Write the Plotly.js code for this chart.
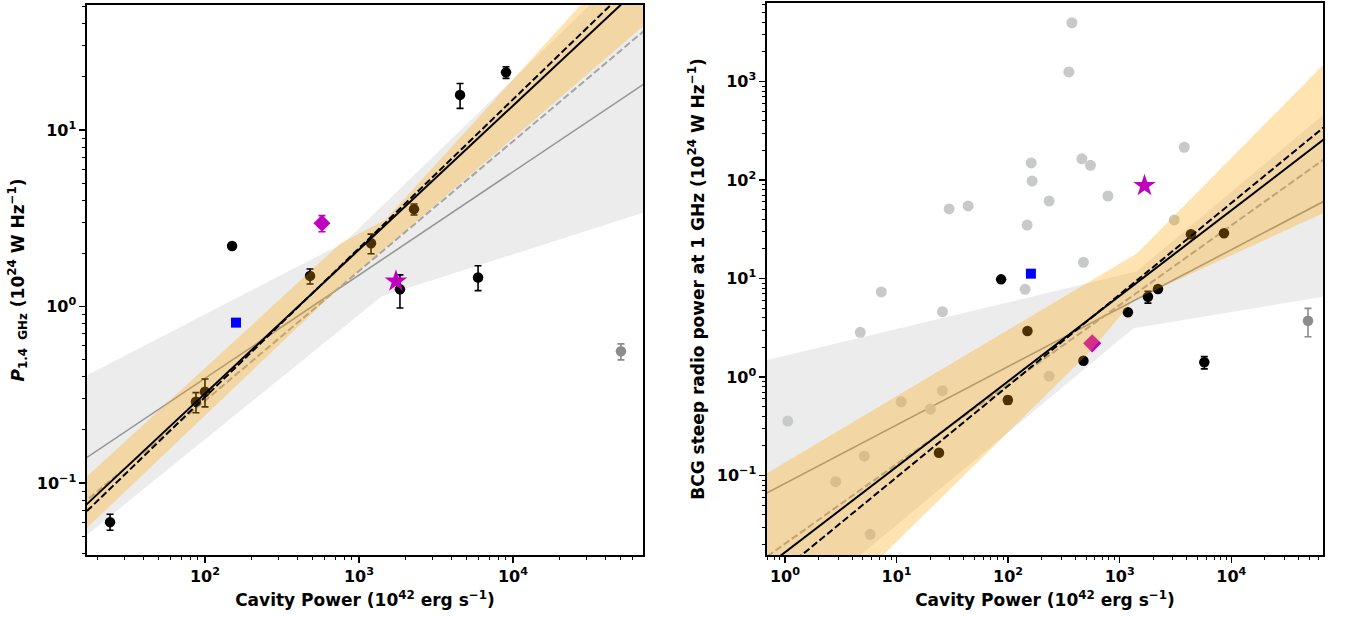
<!DOCTYPE html>
<html><head><meta charset="utf-8">
<script src="https://cdn.plot.ly/plotly-3.0.1.min.js"></script>
<style>html,body{margin:0;padding:0;background:#fff}#plot{width:1347px;height:617px}</style>
</head><body><div id="plot"></div>
<script>
// ================= LEFT PANEL DATA =================
const leftBlackX = [24.2, 87.4, 100, 150, 481, 1197, 1845, 2276, 4530, 5930, 9010];
const leftBlackY = [0.060, 0.289, 0.329, 2.2, 1.49, 2.28, 1.25, 3.56, 15.8, 1.46, 21.2];
const leftBlackErrUp = [0.0065, 0.036, 0.059, 0, 0.14, 0.29, 0.26, 0.25, 2.55, 0.24, 1.6];
const leftBlackErrDown = [0.006, 0.039, 0.059, 0, 0.15, 0.29, 0.27, 0.26, 2.55, 0.23, 1.6];
const leftGreyX = [50200], leftGreyY = [0.557], leftGreyErrUp = [0.057], leftGreyErrDown = [0.059];
const leftBlueX = [159], leftBlueY = [0.81];
const leftDiamondX = [575], leftDiamondY = [2.96], leftDiamondErr = [0.31];
const leftStarX = [1738], leftStarY = [1.39];
// fits: log10(y) = a + b*(log10(x) - 3)
const leftFitBlackSolid = {a: 0.322, b: 0.816};
const leftFitBlackDash  = {a: 0.330, b: 0.843};
const leftFitGreySolid  = {a: 0.178, b: 0.585};
const leftFitGreyDash   = {a: 0.201, b: 0.735};
const leftFitRangeX = [10, 1e5];
// confidence bands
const leftGreyBandUpX = [10, 800, 1e5],        leftGreyBandUpY = [0.32, 2.3, 135];
const leftGreyBandLoX = [10, 1400, 1e5],       leftGreyBandLoY = [0.0347, 1.14, 3.76];
const leftOrBandUpX = [10, 764, 1479, 1e5],    leftOrBandUpY = [0.0705, 2.29, 3.09, 176.6];
const leftOrBandLoX = [10, 753, 1e5],          leftOrBandLoY = [0.0356, 1.29, 50.6];

// ================= RIGHT PANEL DATA =================
const rightBlackX = [24.0, 99.4, 149, 473, 1184, 1791, 2203, 4350, 8600, 86.5, 5730];
const rightBlackY = [0.170, 0.584, 2.93, 1.46, 4.54, 6.53, 7.82, 28.1, 28.8, 9.8, 1.41];
const rightBlackErr = [0.01, 0.05, 0.2, 0.05, 0.2, 0.9, 0.3, 1.0, 1.0, 0.3, 0.2];
const rightLightX = [1.06, 2.85, 4.73, 5.14, 5.8, 7.3, 11, 20.1, 25.8, 25.8, 29.6, 43.8, 142, 148, 161, 164, 233, 233, 350, 373, 473, 458, 547, 784, 3790, 3080];
const rightLightY = [0.357, 0.0865, 2.84, 0.157, 0.0253, 7.3, 0.561, 0.473, 4.6, 0.726, 50.8, 54.5, 7.76, 34.9, 149, 97.7, 61.2, 1.02, 1250, 3950, 14.6, 164, 141, 68.8, 215, 39.3];
const rightGreyX = [48700], rightGreyY = [3.73], rightGreyErrUp = [1.24], rightGreyErrDown = [1.17];
const rightBlueX = [160], rightBlueY = [11.2];
const rightDiamondX = [567], rightDiamondY = [2.2];
const rightStarX = [1668], rightStarY = [87.5];
// fits: log10(y) = a + b*log10(x)
const rightFitBlackSolid = {a: -1.780, b: 0.868};
const rightFitBlackDash  = {a: -1.946, b: 0.928};
const rightFitGreySolid  = {a: -1.080, b: 0.593};
const rightFitGreyDash   = {a: -1.693, b: 0.808};
const rightFitRangeX = [0.3, 1e5];
const rightGreyBandUpX = [0.316, 1413, 1e5],      rightGreyBandUpY = [1.205, 11.75, 676];
const rightGreyBandLoX = [0.316, 1330, 1e5],      rightGreyBandLoY = [0.00122, 3.12, 7.06];
const rightOrBandUpX = [0.316, 1429, 1e5],        rightOrBandUpY = [0.0622, 18.0, 2355];
const rightOrBandLoX = [0.316, 566, 1330, 1e5],   rightOrBandLoY = [0.000453, 1.9, 6.05, 56.8];

// ================= STYLES =================
const GREY_FILL = 'rgba(128,128,128,0.15)';
const ORANGE_FILL = 'rgba(255,165,0,0.3)';
const LIGHT_PT = 'rgb(200,202,202)';

function fitLine(fit, xs, pivot, xa, ya, style) {
  const ys = xs.map(x => Math.pow(10, fit.a + fit.b * (Math.log10(x) - pivot)));
  return {x: xs, y: ys, mode: 'lines', line: style, xaxis: xa, yaxis: ya, hoverinfo: 'skip'};
}
function band(ux, uy, lx, ly, color, xa, ya) {
  return {x: ux.concat(lx.slice().reverse()), y: uy.concat(ly.slice().reverse()),
    mode: 'none', fill: 'toself', fillcolor: color, xaxis: xa, yaxis: ya, hoverinfo: 'skip'};
}
function pts(x, y, sym, size, color, xa, ya, up, down) {
  const t = {x: x, y: y, mode: 'markers', marker: {symbol: sym, size: size, color: color, line: {width: 0}}, xaxis: xa, yaxis: ya};
  if (up) t.error_y = {type: 'data', symmetric: false, array: up, arrayminus: down || up, color: color, thickness: 1.6, width: 3.5};
  return t;
}

const solidBlack = {color: '#000', width: 2};
const dashBlack = {color: '#000', width: 2, dash: '7px,3px'};
const solidGrey = {color: 'rgb(150,150,150)', width: 1.6};
const dashGrey = {color: 'rgb(165,165,165)', width: 2, dash: '7px,3px'};

const traces = [
  // left
  band(leftGreyBandUpX, leftGreyBandUpY, leftGreyBandLoX, leftGreyBandLoY, GREY_FILL, 'x', 'y'),
  fitLine(leftFitGreySolid, leftFitRangeX, 3, 'x', 'y', solidGrey),
  fitLine(leftFitGreyDash, leftFitRangeX, 3, 'x', 'y', dashGrey),
  pts(leftBlackX, leftBlackY, 'circle', 10.5, '#000', 'x', 'y', leftBlackErrUp, leftBlackErrDown),
  pts(leftDiamondX, leftDiamondY, 'diamond', 13, '#bf00bf', 'x', 'y', leftDiamondErr, leftDiamondErr),
  band(leftOrBandUpX, leftOrBandUpY, leftOrBandLoX, leftOrBandLoY, ORANGE_FILL, 'x', 'y'),
  fitLine(leftFitBlackSolid, leftFitRangeX, 3, 'x', 'y', solidBlack),
  fitLine(leftFitBlackDash, leftFitRangeX, 3, 'x', 'y', dashBlack),
  pts(leftBlueX, leftBlueY, 'square', 10, '#0000ff', 'x', 'y'),
  pts(leftStarX, leftStarY, 'star', 17, '#bf00bf', 'x', 'y'),
  pts(leftGreyX, leftGreyY, 'circle', 10.5, 'rgb(140,140,140)', 'x', 'y', leftGreyErrUp, leftGreyErrDown),
  // right
  band(rightGreyBandUpX, rightGreyBandUpY, rightGreyBandLoX, rightGreyBandLoY, GREY_FILL, 'x2', 'y2'),
  fitLine(rightFitGreySolid, rightFitRangeX, 0, 'x2', 'y2', solidGrey),
  fitLine(rightFitGreyDash, rightFitRangeX, 0, 'x2', 'y2', dashGrey),
  pts(rightLightX, rightLightY, 'circle', 11, LIGHT_PT, 'x2', 'y2'),
  pts(rightBlackX, rightBlackY, 'circle', 10.5, '#000', 'x2', 'y2', rightBlackErr, rightBlackErr),
  pts(rightDiamondX, rightDiamondY, 'diamond', 14, '#bf00bf', 'x2', 'y2'),
  band(rightOrBandUpX, rightOrBandUpY, rightOrBandLoX, rightOrBandLoY, ORANGE_FILL, 'x2', 'y2'),
  fitLine(rightFitBlackSolid, rightFitRangeX, 0, 'x2', 'y2', solidBlack),
  fitLine(rightFitBlackDash, rightFitRangeX, 0, 'x2', 'y2', dashBlack),
  pts(rightBlueX, rightBlueY, 'square', 10, '#0000ff', 'x2', 'y2'),
  pts(rightStarX, rightStarY, 'star', 17, '#bf00bf', 'x2', 'y2'),
  pts(rightGreyX, rightGreyY, 'circle', 10.5, 'rgb(140,140,140)', 'x2', 'y2', rightGreyErrUp, rightGreyErrDown),
];

function decadeTicks(lo, hi) {
  const vals = [], text = [];
  for (let p = lo; p <= hi; p++) {
    vals.push(Math.pow(10, p));
    text.push(p < 0 ? '10<sup>\u2212' + (-p) + '</sup>' : '10<sup>' + p + '</sup>');
  }
  return {vals, text};
}
function minorTicks(lo, hi) {
  const v = [];
  for (let p = lo; p <= hi; p++) for (let k = 2; k <= 9; k++) v.push(k * Math.pow(10, p));
  return v;
}
const tickFont = {family: 'DejaVu Sans', size: 16, color: '#000', weight: 700};
const titleFont = {family: 'DejaVu Sans', size: 17, color: '#000', weight: 700};

function axis(range, domain, lo, hi, title, standoff, anchor) {
  const t = decadeTicks(lo, hi);
  return {
    type: 'log', range: range, domain: domain, anchor: anchor,
    showgrid: false, zeroline: false,
    showline: true, mirror: true, linecolor: '#000', linewidth: 1.6,
    ticks: 'outside', ticklen: 6, tickwidth: 1.4, tickcolor: '#000',
    tickmode: 'array', tickvals: t.vals, ticktext: t.text, tickfont: tickFont,
    minor: {tickmode: 'array', tickvals: minorTicks(lo - 1, hi + 1), ticks: 'outside', ticklen: 3.5, tickwidth: 1, tickcolor: '#000', showgrid: false},
    title: {text: title, font: titleFont, standoff: standoff},
    automargin: false
  };
}
const W = 1347, H = 617;
const xTitle = 'Cavity Power (10<sup>42</sup> erg s<sup>\u22121</sup>)';
const layout = {
  width: W, height: H, margin: {l: 0, r: 0, t: 0, b: 0},
  paper_bgcolor: '#fff', plot_bgcolor: '#fff', showlegend: false,
  font: {family: 'DejaVu Sans', color: '#000'},
  xaxis: axis([1.234, 4.844], [87 / W, 643 / W], 2, 4, xTitle, 9, 'y'),
  yaxis: axis([-1.408, 1.708], [1 - 555 / H, 1 - 5 / H], -1, 1, '<i>P</i><sub>1.4  GHz</sub> (10<sup>24</sup> W Hz<sup>\u22121</sup>)', 8, 'x'),
  xaxis2: axis([-0.161, 4.822], [767 / W, 1323 / W], 0, 4, xTitle, 9, 'y2'),
  yaxis2: axis([-1.807, 3.797], [1 - 555 / H, 1 - 3 / H], -1, 3, 'BCG steep radio power at 1 GHz (10<sup>24</sup> W Hz<sup>\u22121</sup>)', 8, 'x2'),
};
Plotly.newPlot('plot', traces, layout, {staticPlot: true});
</script></body></html>
